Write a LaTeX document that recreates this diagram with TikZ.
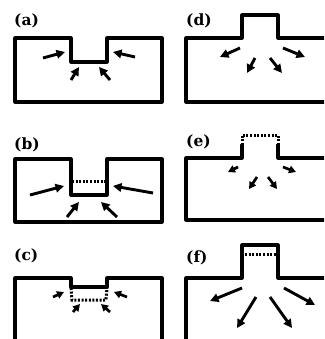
\documentclass[tikz,border=0pt]{standalone}
\usepackage{fontspec}
\newfontfamily\labfont{DejaVu Serif}
\usetikzlibrary{arrows.meta}
\begin{document}
\begin{tikzpicture}[x=1pt,y=-1pt,
  wall/.style={line width=3.1pt,line join=round,line cap=round},
  dotwall/.style={line width=3pt,dash pattern=on 2pt off 1.6pt},
  arr/.style={line width=2.9pt,-{Triangle[length=8.5pt,width=8.5pt]}},
  sarr/.style={line width=2.7pt,-{Triangle[length=7pt,width=7.5pt]}},
  lab/.style={anchor=west,inner sep=0pt,font=\labfont\bfseries\fontsize{15.5}{15.5}\selectfont}]
\useasboundingbox (0,0) rectangle (324,339);
\clip (0,0) rectangle (324,339);
% labels
\node[lab] (la) at (14,21) {(a)};
\node[lab] (lb) at (14,145) {(b)};
\node[lab] (lc) at (14,256) {(c)};
\node[lab] (ld) at (186,21) {(d)};
\node[lab] (le) at (186,142) {(e)};
\node[lab] (lf) at (186,258) {(f)};
% (a)
\draw[wall] (15,102) -- (15,38) -- (71,38) -- (71,62) -- (107,62) -- (107,38) -- (162,38) -- (162,102) -- cycle;
\draw[arr] (43,58) -- (65,52);
\draw[arr] (135,57) -- (113,52);
\draw[arr] (71,80) -- (79,67);
\draw[arr] (110,80) -- (99,67);
% (b)
\draw[wall] (15,222) -- (15,159) -- (71,159) -- (71,195) -- (107,195) -- (107,159) -- (162,159) -- (162,222) -- cycle;
\draw[dotwall] (72,181) -- (106,181);
\draw[arr] (30,195) -- (64,186);
\draw[arr] (153,193) -- (113,186);
\draw[arr] (67,217) -- (79,202);
\draw[arr] (117,217) -- (101,202);
% (c)
\draw[wall] (15,345) -- (15,278) -- (71,278) -- (71,287) -- (107,287) -- (107,278) -- (162,278) -- (162,345);
\draw[dotwall] (71,288) -- (72,300) -- (106,300) -- (107,288);
\draw[sarr] (53,297) -- (64,292);
\draw[sarr] (127,297) -- (114,292);
\draw[sarr] (73,312) -- (80,304);
\draw[sarr] (110,312) -- (101,304);
% (d)
\draw[wall] (330,102) -- (186,102) -- (186,38) -- (242,38) -- (242,15) -- (278,15) -- (278,38) -- (330,38);
\draw[arr] (240,48) -- (220,57);
\draw[arr] (255,58) -- (247,73);
\draw[arr] (270,58) -- (282,73);
\draw[arr] (283,48) -- (305,57);
% (e)
\draw[wall] (330,220) -- (186,220) -- (186,158) -- (242,158) -- (242,145);
\draw[wall] (278,145) -- (278,158) -- (330,158);
\draw[dotwall] (242,145) -- (242,135) -- (278,135) -- (278,145);
\draw[sarr] (238,167) -- (228,172);
\draw[sarr] (257,177) -- (249,189);
\draw[sarr] (268,177) -- (277,189);
\draw[sarr] (283,167) -- (296,172);
% (f)
\draw[wall] (186,345) -- (186,278) -- (242,278) -- (242,245) -- (278,245) -- (278,278) -- (330,278);
\draw[dotwall] (245,254) -- (277,254);
\draw[arr] (242,288) -- (210,301);
\draw[arr] (256,297) -- (237,328);
\draw[arr] (270,297) -- (292,328);
\draw[arr] (284,288) -- (315,305);
\end{tikzpicture}
\end{document}
